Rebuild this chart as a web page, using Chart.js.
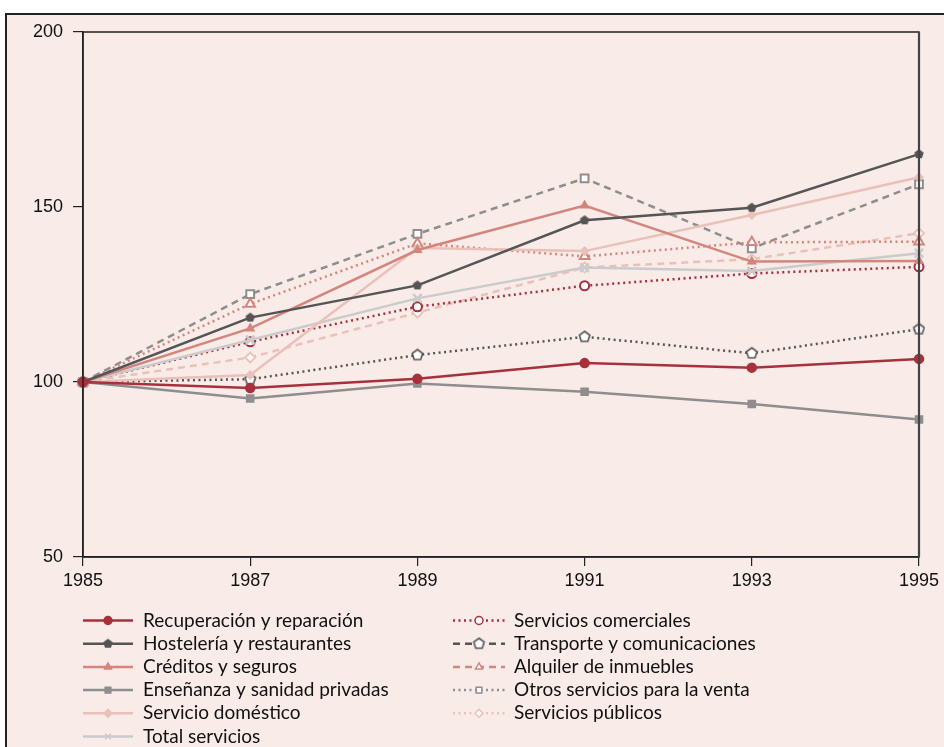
<!DOCTYPE html>
<html>
<head>
<meta charset="utf-8">
<script src="https://cdn.jsdelivr.net/npm/chart.js@4"></script>
<style>
html, body { margin: 0; padding: 0; background: #fff; overflow: hidden; }
#frame { position: absolute; left: 5px; top: 13px; width: 960px; height: 760px; background: #f8ebe8; border: 2px solid #222; }
#wrap { position: absolute; left: 0; top: 0; width: 944px; height: 747px; }
</style>
</head>
<body>
<div id="frame"></div>
<div id="wrap"><canvas id="chart" width="944" height="747"></canvas></div>
<script>
// Índices 1985 = 100
const years = ['1985', '1987', '1989', '1991', '1993', '1995'];
const recuperacion = [100, 98.3, 100.9, 105.4, 104.1, 106.6];
const hosteleria = [100, 118.4, 127.6, 146.2, 149.8, 165.1];
const creditos = [100, 115.3, 137.7, 150.4, 134.4, 134.6];
const ensenanza = [100, 95.3, 99.6, 97.2, 93.7, 89.3];
const domestico = [100, 102.0, 138.3, 137.4, 147.7, 158.5];
const totalServicios = [100, 112.0, 123.9, 132.7, 131.7, 136.8];
const comerciales = [100, 111.5, 121.5, 127.5, 131.0, 132.9];
const transporte = [100, 100.8, 107.7, 112.9, 108.2, 115.1];
const alquiler = [100, 122.3, 139.6, 135.9, 139.9, 140.1];
const otros = [100, 125.1, 142.3, 158.2, 138.2, 156.5];
const publicos = [100, 107.0, 119.8, 132.7, 135.1, 142.5];

const rojo = '#a8303c', grisOsc = '#555555', salmon = '#d4857c', gris = '#8e8e8e', rosa = '#e9c1b9', grisClaro = '#cbcbcb';
const DOT = [2, 3.5], DASH = [7, 5];

function pentagon(r, fill, stroke) {
    const c = document.createElement('canvas');
    const s = Math.ceil(2 * r + 4);
    c.width = c.height = s;
    const g = c.getContext('2d');
    g.beginPath();
    for (let i = 0; i < 5; i++) {
        const a = -Math.PI / 2 + i * 2 * Math.PI / 5;
        g.lineTo(s / 2 + r * Math.cos(a), s / 2 + r * Math.sin(a));
    }
    g.closePath();
    g.fillStyle = fill;
    g.fill();
    if (stroke) { g.strokeStyle = stroke; g.lineWidth = 1.6; g.stroke(); }
    return c;
}

function serie(label, data, color, style, opts) {
    return Object.assign({
        label: label,
        data: data,
        borderColor: color,
        backgroundColor: color,
        pointBorderColor: color,
        pointBackgroundColor: color,
        borderWidth: 2.5,
        pointStyle: style,
        pointRadius: 4.5,
        pointBorderWidth: 1.5,
        tension: 0,
        borderDash: [],
        legendDash: []
    }, opts || {});
}

const datasets = [
    serie('Recuperación y reparación', recuperacion, rojo, 'circle'),
    serie('Hostelería y restaurantes', hosteleria, grisOsc, pentagon(5, grisOsc)),
    serie('Créditos y seguros', creditos, salmon, 'triangle'),
    serie('Enseñanza y sanidad privadas', ensenanza, gris, 'rect', { pointRadius: 5 }),
    serie('Servicio doméstico', domestico, rosa, 'rectRot', { pointRadius: 4 }),
    serie('Total servicios', totalServicios, grisClaro, 'crossRot', { pointRadius: 6, pointBorderWidth: 2.5 }),
    serie('Servicios comerciales', comerciales, rojo, 'circle', { borderDash: DOT, legendDash: DOT, pointBackgroundColor: '#fff', pointBorderWidth: 2 }),
    serie('Transporte y comunicaciones', transporte, grisOsc, pentagon(5.5, '#fff', grisOsc), { borderDash: DOT, legendDash: DASH }),
    serie('Alquiler de inmuebles', alquiler, salmon, 'triangle', { borderDash: DOT, legendDash: DASH, pointBackgroundColor: '#fff', pointBorderWidth: 2, pointRadius: 5.5 }),
    serie('Otros servicios para la venta', otros, gris, 'rect', { borderDash: DASH, legendDash: DOT, pointBackgroundColor: '#fff', pointBorderWidth: 2, pointRadius: 5.5 }),
    serie('Servicios públicos', publicos, rosa, 'rectRot', { borderDash: DASH, legendDash: DOT, pointBackgroundColor: '#fff', pointBorderWidth: 1.8, pointRadius: 5 })
];

const frameBox = {
    id: 'frameBox',
    afterDraw(chart) {
        const { ctx, chartArea: a } = chart;
        ctx.save();
        ctx.strokeStyle = '#222';
        ctx.lineWidth = 1.5;
        ctx.strokeRect(a.left, a.top, a.right - a.left, a.bottom - a.top);
        ctx.strokeStyle = '#444';
        ctx.lineWidth = 2.2;
        ctx.beginPath();
        ctx.moveTo(a.right, a.top);
        ctx.lineTo(a.right, a.bottom);
        ctx.stroke();
        ctx.restore();
    }
};

// leyenda en dos columnas, con línea y marcador
const leyenda = {
    id: 'leyenda',
    afterDraw(chart) {
        const ctx = chart.ctx;
        const cols = [{ x0: 83, x1: 133, tx: 143, y: 620.5 }, { x0: 453, x1: 505, tx: 514, y: 620.5 }];
        ctx.save();
        chart.data.datasets.forEach((ds, i) => {
            const c = i < 6 ? cols[0] : cols[1];
            const row = i < 6 ? i : i - 6;
            const y = c.y + row * 23.2;
            ctx.strokeStyle = ds.borderColor;
            ctx.lineWidth = 2.5;
            ctx.setLineDash(ds.legendDash);
            ctx.beginPath();
            ctx.moveTo(c.x0, y);
            ctx.lineTo(c.x1, y);
            ctx.stroke();
            ctx.setLineDash([]);
            ctx.fillStyle = ds.pointBackgroundColor;
            ctx.strokeStyle = ds.pointBorderColor;
            ctx.lineWidth = 1.5;
            Chart.helpers.drawPoint(ctx, { pointStyle: ds.pointStyle, radius: 4, rotation: 0, borderWidth: 1.5 }, (c.x0 + c.x1) / 2, y);
            ctx.fillStyle = '#111';
            ctx.font = '19px Lato, "Noto Sans", sans-serif';
            ctx.textBaseline = 'middle';
            ctx.fillText(ds.label, c.tx, y);
        });
        ctx.restore();
    }
};

const tickFont = { family: '"Liberation Sans Narrow", "Liberation Sans", sans-serif', size: 18 };

new Chart(document.getElementById('chart').getContext('2d'), {
    type: 'line',
    data: { labels: years, datasets: datasets },
    options: {
        responsive: false,
        animation: false,
        layout: { padding: { top: 32, right: 25, left: 0, bottom: 0 } },
        plugins: { legend: { display: false }, tooltip: { enabled: false } },
        scales: {
            x: {
                type: 'category',
                offset: false,
                grid: { drawOnChartArea: false, tickLength: 9, color: '#222', lineWidth: 1.2 },
                border: { color: '#222', width: 1.5 },
                ticks: { color: '#111', font: tickFont, padding: 4, maxRotation: 0 },
                afterFit(s) { s.height = 190; }
            },
            y: {
                min: 50,
                max: 200,
                grid: { drawOnChartArea: false, tickLength: 10, color: '#222', lineWidth: 1.2 },
                border: { color: '#222', width: 1.5 },
                ticks: { stepSize: 50, color: '#111', font: tickFont, padding: 10 },
                afterFit(s) { s.width = 83; }
            }
        }
    },
    plugins: [frameBox, leyenda]
});
</script>
</body>
</html>
